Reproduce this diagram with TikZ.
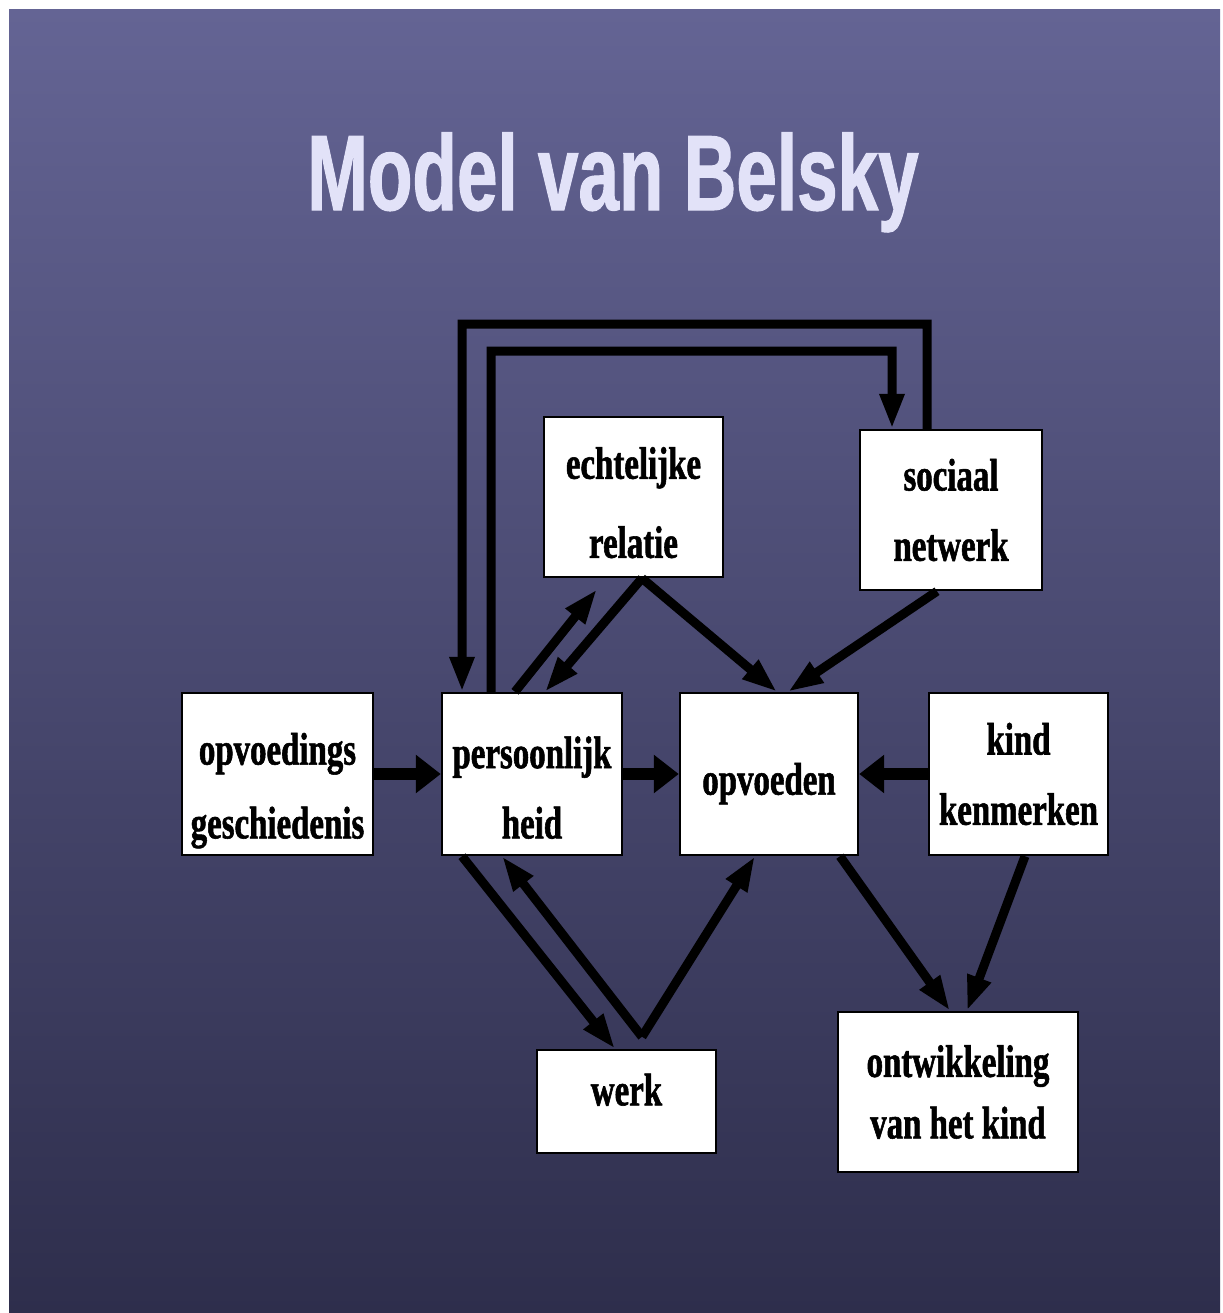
\documentclass[tikz,border=0pt]{standalone}
\usepackage{fontspec}
\usetikzlibrary{arrows.meta}
\newfontfamily\boxfont[FakeStretch=0.72,FakeBold=1.2]{Liberation Serif}
\newfontfamily\titlefont[FakeStretch=0.68,FakeBold=1]{Liberation Sans}
\definecolor{slidetop}{RGB}{100,100,148}
\definecolor{slidemid}{RGB}{72,72,116}
\definecolor{slidebot}{RGB}{46,46,76}
\definecolor{titlecol}{RGB}{226,226,248}
\tikzset{
	slidetitle/.style={font=\titlefont\bfseries\fontsize{61}{70}\selectfont,text=titlecol,inner sep=0pt,anchor=base},
	factor/.style={draw=black,fill=white,line width=0.05cm,inner sep=0pt,align=center,
		font=\boxfont\bfseries\fontsize{26}{40}\selectfont},
	link/.style={line width=0.18cm,-{Triangle[length=0.7cm,width=0.46cm]}},
	biglink/.style={line width=0.24cm,-{Triangle[length=0.5cm,width=0.74cm]}},
}
\begin{document}
\begin{tikzpicture}[x=0.02cm,y=-0.02cm]
			\useasboundingbox (0,0) rectangle (1223,1313);
			\fill[white] (0,0) rectangle (1223,1313);
			\shade[top color=slidetop,middle color=slidemid,bottom color=slidebot] (9,9) rectangle (1220,1313);
			
			\node[slidetitle] (title)at(613,210) {Model van Belsky};
			
			% boxes, struts push the text down where the slide has it low
			\node[factor,minimum width=3.82cm,minimum height=3.24cm] (opv)at(277.5,774) {\rule{0pt}{1.3cm}opvoedings\\[2pt]geschiedenis};
			\node[factor,minimum width=3.6cm,minimum height=3.24cm] (pers)at(532,774) {\rule{0pt}{1.18cm}persoonlijk\\heid};
			\node[factor,minimum width=3.56cm,minimum height=3.24cm] (opvoeden)at(769,774) {\rule{0pt}{1.02cm}opvoeden};
			\node[factor,minimum width=3.58cm,minimum height=3.24cm] (kind)at(1018.5,774) {kind\\kenmerken};
			\node[factor,minimum width=3.58cm,minimum height=3.2cm] (echt)at(633.5,497) {\rule{0pt}{0.86cm}echtelijke\\[5pt]relatie};
			\node[factor,minimum width=3.64cm,minimum height=3.2cm] (soc)at(951,510) {sociaal\\netwerk};
			\node[factor,minimum width=3.58cm,minimum height=2.06cm,text depth=0.48cm] (werk)at(626.5,1101.5) {werk};
			\node[factor,minimum width=4.8cm,minimum height=3.2cm] (ontw)at(958,1092) {ontwikkeling\\[-5pt]van het kind};
			
			\draw[biglink] (opv) -- (pers);
			\draw[biglink] (pers) -- (opvoeden);
			\draw[biglink] (kind) -- (opvoeden);
			
			\draw[link] ([xshift=-0.48cm]soc.north) |- (462,324) -- ([xshift=-1.4cm]pers.north);
			\draw[link] ([xshift=-0.82cm]pers.north) |- (892,351) -- ([xshift=-1.18cm]soc.north);
			
			\draw[link] ([xshift=-0.34cm]pers.north) -- ([xshift=-0.73cm,yshift=-0.22cm]echt.south);
			\draw[link] ([xshift=0.17cm]echt.south) -- ([xshift=0.26cm]pers.north);
			\draw[link] ([xshift=0.17cm]echt.south) -- ([xshift=0.16cm]opvoeden.north);
			\draw[link] ([xshift=-0.28cm]soc.south) -- ([xshift=0.38cm]opvoeden.north);
			\draw[link] ([xshift=-1.4cm]pers.south) -- ([xshift=-0.23cm]werk.north);
			\draw[link] ([xshift=0.31cm,yshift=0.24cm]werk.north) -- ([xshift=-0.6cm]pers.south);
			\draw[link] ([xshift=0.31cm,yshift=0.24cm]werk.north) -- ([xshift=-0.28cm]opvoeden.south);
			\draw[link] ([xshift=1.42cm]opvoeden.south) -- ([xshift=-0.16cm]ontw.north);
			\draw[link] ([xshift=0.13cm]kind.south) -- ([xshift=0.18cm]ontw.north);
		\end{tikzpicture}
\end{document}
